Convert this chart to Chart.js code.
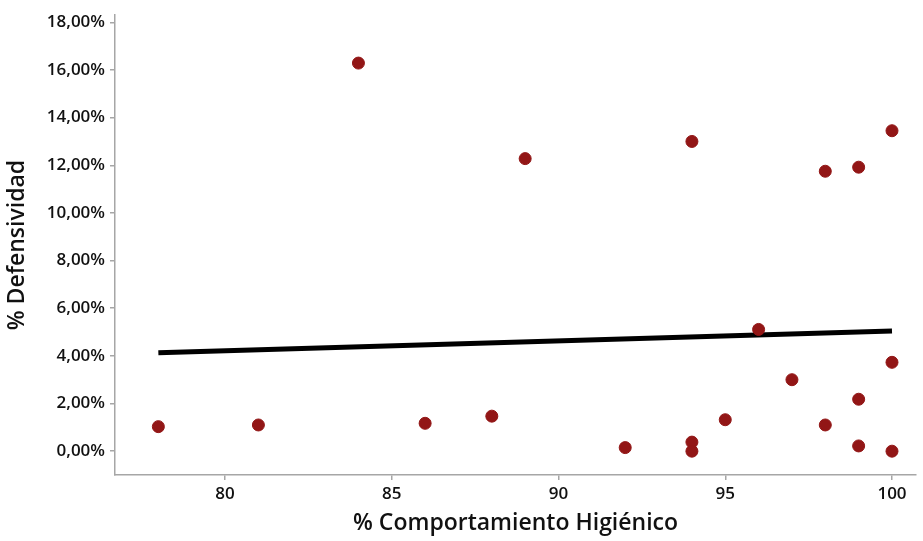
<!DOCTYPE html>
<html>
<head>
<meta charset="utf-8">
<script src="https://cdn.jsdelivr.net/npm/chart.js@4.4.1/dist/chart.umd.min.js"></script>
<style>
  html, body { margin: 0; padding: 0; background: #fff; }
  #wrap { width: 923px; height: 541px; }
</style>
</head>
<body>
<div id="wrap"><canvas id="myChart"></canvas></div>
<script>
// datos
const comportamiento = [78, 81, 84, 86, 88, 89, 92, 94, 94, 94, 95, 96, 97, 98, 98, 99, 99, 99, 100, 100, 100];
const defensividad   = [1.03, 1.10, 16.29, 1.17, 1.47, 12.28, 0.15, 13.0, 0.38, 0.0, 1.32, 5.11, 3.0, 11.75, 1.10, 11.92, 2.18, 0.22, 13.45, 3.73, 0.0];
// recta de tendencia (extremos)
const tendenciaX = [78, 100];
const tendenciaY = [4.13, 5.04];
const ticksY = [0, 2, 4, 6, 8, 10, 12, 14, 16, 18];
const ticksX = [80, 85, 90, 95, 100];

function formatoPct(v) {
    return v.toFixed(2).replace('.', ',') + '%';
}

const gris = '#a6a6a6';
const fuente = "'Open Sans', 'Noto Sans', sans-serif";

document.addEventListener("DOMContentLoaded", () => {
    const ctx = document.getElementById('myChart').getContext('2d');
    new Chart(ctx, {
        type: 'scatter',
        data: {
            datasets: [{
                label: 'Tendencia',
                type: 'line',
                data: tendenciaX.map((x, i) => ({ x: x, y: tendenciaY[i] })),
                borderColor: '#000',
                borderWidth: 5,
                pointRadius: 0,
                fill: false,
                order: 2
            }, {
                label: 'Defensividad',
                data: comportamiento.map((x, i) => ({ x: x, y: defensividad[i] })),
                backgroundColor: '#921616',
                borderColor: '#921616',
                pointRadius: 6,
                pointHoverRadius: 6,
                order: 1
            }]
        },
        options: {
            responsive: true,
            maintainAspectRatio: false,
            animation: false,
            layout: { padding: { top: 13, right: 3, left: 0, bottom: 0 } },
            plugins: { legend: { display: false }, tooltip: { enabled: false } },
            scales: {
                x: {
                    type: 'linear',
                    min: 76.7,
                    max: 100.72,
                    afterFit: s => { s.height = 66; },
                    afterBuildTicks: s => { s.ticks = ticksX.map(v => ({ value: v })); },
                    border: { color: gris, width: 1.5 },
                    grid: { drawOnChartArea: false, drawTicks: true, tickLength: 5, color: gris, lineWidth: 1.5 },
                    ticks: { color: '#111', padding: 4, font: { family: fuente, size: 17, weight: '600' } },
                    title: {
                        display: true,
                        text: '% Comportamiento Higiénico',
                        color: '#111',
                        padding: { top: 4 },
                        font: { family: fuente, size: 23, weight: '600' }
                    }
                },
                y: {
                    type: 'linear',
                    min: -1,
                    max: 18.3,
                    afterFit: s => { s.width = 115; },
                    afterBuildTicks: s => { s.ticks = ticksY.map(v => ({ value: v })); },
                    border: { color: gris, width: 1.5 },
                    grid: { drawOnChartArea: false, drawTicks: true, tickLength: 5, color: gris, lineWidth: 1.5 },
                    ticks: {
                        color: '#111',
                        padding: 5,
                        font: { family: fuente, size: 17, weight: '600' },
                        callback: v => formatoPct(v)
                    },
                    title: {
                        display: true,
                        text: '% Defensividad',
                        color: '#111',
                        padding: { top: 4, bottom: 0 },
                        font: { family: fuente, size: 23, weight: '600' }
                    }
                }
            }
        }
    });
});
</script>
</body>
</html>
